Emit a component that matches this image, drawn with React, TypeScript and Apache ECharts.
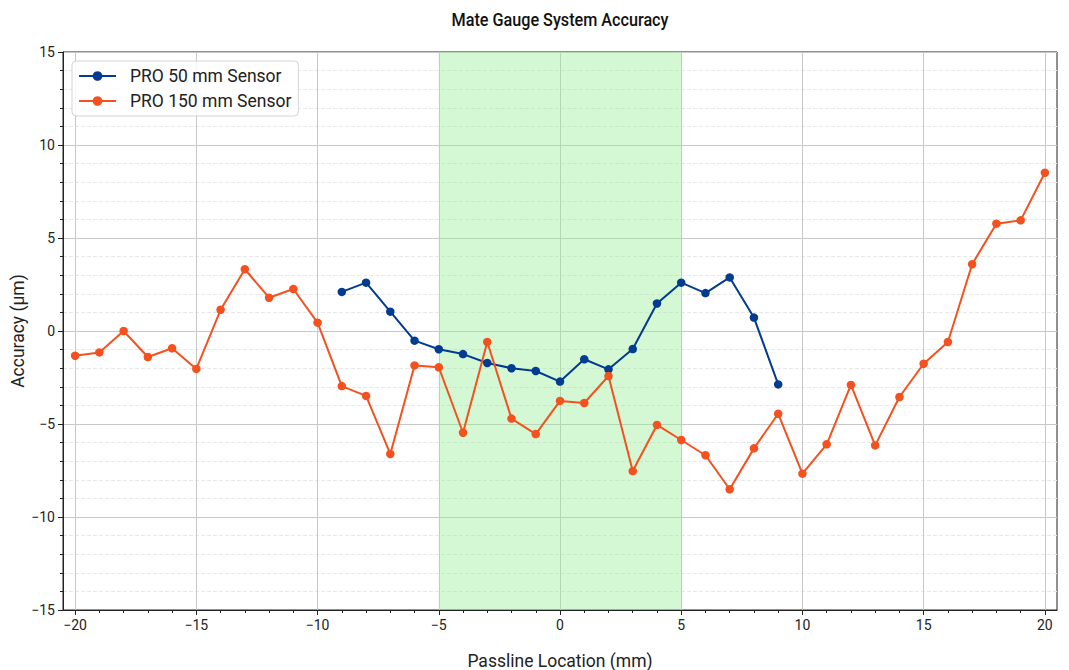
import React, { useEffect, useRef } from "react";
import * as echarts from "echarts";

// Passline positions (mm) and measured accuracy (µm)
const positions50 = [-9, -8, -7, -6, -5, -4, -3, -2, -1, 0, 1, 2, 3, 4, 5, 6, 7, 8, 9];
const accuracy50 = [2.1, 2.6, 1.04, -0.52, -0.98, -1.24, -1.72, -2.0, -2.15, -2.72, -1.52, -2.06, -0.97, 1.48, 2.6, 2.04, 2.88, 0.72, -2.87];

const positions150 = [
  -20, -19, -18, -17, -16, -15, -14, -13, -12, -11, -10, -9, -8, -7, -6, -5, -4, -3, -2, -1, 0,
  1, 2, 3, 4, 5, 6, 7, 8, 9, 10, 11, 12, 13, 14, 15, 16, 17, 18, 19, 20,
];
const accuracy150 = [
  -1.33, -1.15, 0.0, -1.4, -0.93, -2.04, 1.14, 3.32, 1.79, 2.26, 0.45, -2.96, -3.49, -6.61, -1.85, -1.95, -5.47, -0.59, -4.71, -5.54, -3.76,
  -3.87, -2.42, -7.53, -5.05, -5.86, -6.68, -8.51, -6.31, -4.45, -7.67, -6.09, -2.9, -6.15, -3.55, -1.76, -0.59, 3.59, 5.77, 5.95, 8.51,
];

const chartTitle = "Mate Gauge System Accuracy";
const seriesNames = ["PRO 50 mm Sensor", "PRO 150 mm Sensor"];
const seriesColors = ["#023b8f", "#f4511e"];

const xMajorTicks = [-20, -15, -10, -5, 0, 5, 10, 15, 20];
const xMinorTicks = [
  -19, -18, -17, -16, -14, -13, -12, -11, -9, -8, -7, -6, -4, -3, -2, -1,
  1, 2, 3, 4, 6, 7, 8, 9, 11, 12, 13, 14, 16, 17, 18, 19,
];
const toleranceBand = [-5, 5];

const minus = (v: number) => String(v).replace("-", "\u2212");

export default function App() {
  const ref = useRef<HTMLDivElement>(null);

  useEffect(() => {
    document.body.style.margin = "0";
    if (!ref.current) return;
    const chart = echarts.init(ref.current, undefined, { renderer: "svg" });
    const font = "Roboto, 'DejaVu Sans', sans-serif";
    const axisColor = "#222";

    chart.setOption({
      animation: false,
      backgroundColor: "#ffffff",
      graphic: [
        {
          type: "text",
          x: 560,
          y: 20,
          scaleX: 0.9,
          style: {
            text: chartTitle,
            fontFamily: "Roboto, sans-serif",
            fontSize: 18,
            fontWeight: 500,
            fill: "#111",
            textAlign: "center",
            textVerticalAlign: "middle",
          },
        },
      ],
      grid: {
        left: 63,
        right: 12,
        top: 52,
        bottom: 60,
        show: true,
        borderColor: axisColor,
        borderWidth: 1,
        backgroundColor: "transparent",
        outerBoundsMode: "none",
        containLabel: false,
      },
      legend: {
        orient: "vertical",
        left: 72,
        top: 61,
        itemWidth: 37,
        itemHeight: 12,
        itemGap: 7,
        padding: [6, 7, 6, 6],
        backgroundColor: "rgba(255,255,255,0.85)",
        borderColor: "#d4d4d4",
        borderWidth: 1,
        borderRadius: 4,
        textStyle: { fontSize: 17.5, color: "#222", fontFamily: font, padding: [0, 0, 0, 9] },
        data: seriesNames,
      },
      xAxis: [
        {
          type: "value",
          min: -20.5,
          max: 20.5,
          name: "Passline Location (mm)",
          nameLocation: "middle",
          nameGap: 42,
          nameMoveOverlap: false,
          nameTextStyle: { fontSize: 17.5, color: "#222", fontFamily: font },
          axisLine: { show: true, onZero: false, lineStyle: { color: axisColor, width: 1 } },
          axisTick: { show: true, customValues: xMajorTicks, length: 5, lineStyle: { color: axisColor } },
          axisLabel: {
            customValues: xMajorTicks,
            formatter: (v: number) => minus(v),
            fontSize: 14,
            color: "#222",
            fontFamily: font,
            margin: 8,
          },
          splitLine: { show: true, lineStyle: { color: "#c8c8c8", width: 1 } },
        },
        {
          type: "value",
          min: -20.5,
          max: 20.5,
          position: "bottom",
          axisLine: { show: false, onZero: false },
          axisTick: { show: true, customValues: xMinorTicks, length: 3, lineStyle: { color: axisColor } },
          axisLabel: { show: false },
          splitLine: { show: false },
        },
      ],
      yAxis: {
        type: "value",
        min: -15,
        max: 15,
        interval: 5,
        name: "Accuracy (µm)",
        nameLocation: "middle",
        nameGap: 36,
        nameMoveOverlap: false,
        nameTextStyle: { fontSize: 17.5, color: "#222", fontFamily: font },
        axisLine: { show: true, onZero: false, lineStyle: { color: axisColor, width: 1 } },
        axisTick: { show: true, length: 5, lineStyle: { color: axisColor } },
        minorTick: { show: true, splitNumber: 5, length: 3, lineStyle: { color: axisColor } },
        minorSplitLine: { show: true, lineStyle: { color: "#e8e8e8", type: "dashed", width: 1 } },
        splitLine: { show: true, lineStyle: { color: "#c8c8c8", width: 1 } },
        axisLabel: {
          formatter: (v: number) => minus(v),
          fontSize: 14,
          color: "#222",
          fontFamily: font,
          margin: 8,
        },
      },
      series: [
        {
          name: seriesNames[0],
          type: "line",
          xAxisIndex: 0,
          data: positions50.map((x, i) => [x, accuracy50[i]]),
          symbol: "circle",
          symbolSize: 8.5,
          showSymbol: true,
          itemStyle: { color: seriesColors[0] },
          lineStyle: { width: 2, color: seriesColors[0] },
          z: 3,
          markArea: {
            silent: true,
            itemStyle: { color: "rgba(144,238,144,0.4)" },
            data: [[{ xAxis: toleranceBand[0] }, { xAxis: toleranceBand[1] }]],
          },
        },
        {
          name: seriesNames[1],
          type: "line",
          xAxisIndex: 0,
          data: positions150.map((x, i) => [x, accuracy150[i]]),
          symbol: "circle",
          symbolSize: 8.5,
          showSymbol: true,
          itemStyle: { color: seriesColors[1] },
          lineStyle: { width: 2, color: seriesColors[1] },
          z: 4,
        },
      ],
    });

    return () => chart.dispose();
  }, []);

  return <div ref={ref} style={{ width: 1069, height: 670 }} />;
}
